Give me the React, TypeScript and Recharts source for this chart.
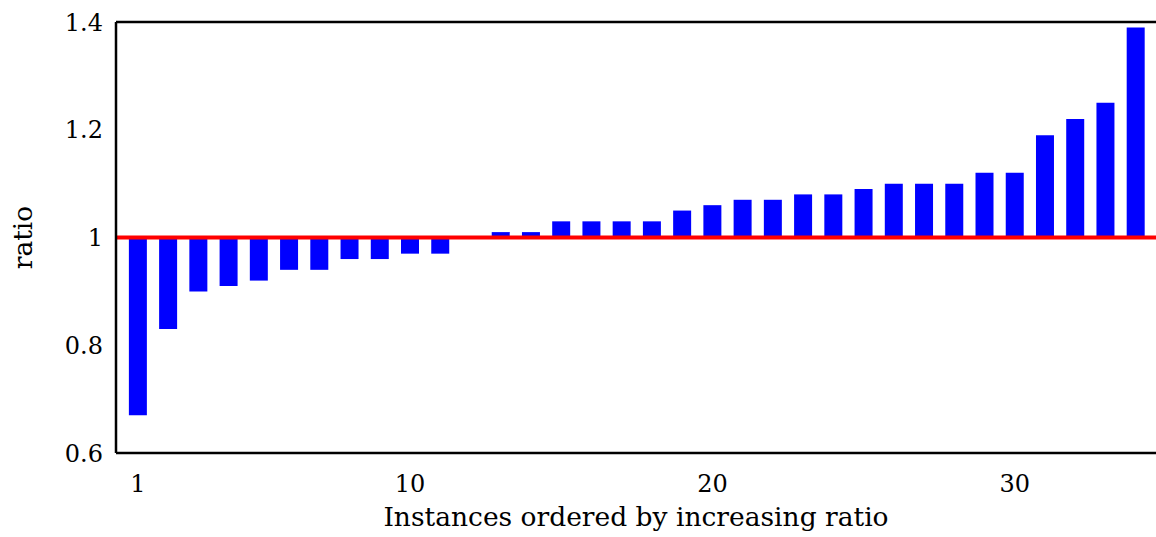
import React from 'react';
import { BarChart, Bar, XAxis, YAxis, ReferenceLine } from 'recharts';

const instances: number[] = Array.from({ length: 34 }, (_, i) => i + 1);
const ratios: number[] = [
  0.67, 0.83, 0.9, 0.91, 0.92, 0.94, 0.94, 0.96, 0.96, 0.97, 0.97, 1.0,
  1.01, 1.01, 1.03, 1.03, 1.03, 1.03, 1.05, 1.06, 1.07, 1.07, 1.08, 1.08,
  1.09, 1.1, 1.1, 1.1, 1.12, 1.12, 1.19, 1.22, 1.25, 1.39,
];
const xTicks: number[] = [1, 10, 20, 30];
const yTicks: number[] = [0.6, 0.8, 1, 1.2, 1.4];
const baseline = 1;

const data = instances.map((idx, i) => ({ idx, range: [baseline, ratios[i]] }));

const FONT = '"DejaVu Serif", "Liberation Serif", serif';
const FS = 24;
const LFS = 26.5;

export default function App() {
  return (
    <div style={{ position: 'absolute', left: 0, top: 0, width: 1156, height: 537, overflow: 'hidden', background: '#fff' }}>
      <BarChart width={1170} height={537} data={data} margin={{ top: 22, right: 10, bottom: 0, left: 0 }} barSize={18}>
        <XAxis
          dataKey="idx"
          type="number"
          domain={[0.2725, 34.8]}
          allowDataOverflow
          ticks={xTicks}
          interval={0}
          height={84}
          tickLine={false}
          tickSize={0}
          tickMargin={22}
          axisLine={{ stroke: '#000', strokeWidth: 2.5 }}
          tick={{ fill: '#000', fontSize: FS, fontFamily: FONT }}
          label={{
            content: () => (
              <text x={636} y={526} textAnchor="middle" fill="#000" fontSize={LFS} fontFamily={FONT}>
                Instances ordered by increasing ratio
              </text>
            ),
          }}
        />
        <YAxis
          type="number"
          domain={[0.6, 1.4]}
          ticks={yTicks}
          interval={0}
          width={116}
          tickLine={false}
          tickSize={0}
          tickMargin={13}
          axisLine={{ stroke: '#000', strokeWidth: 2.5 }}
          tick={{ fill: '#000', fontSize: FS, fontFamily: FONT }}
          label={{
            content: (props: any) => {
              const vb = props.viewBox || { y: 22, height: 431 };
              const cy = vb.y + vb.height / 2;
              return (
                <text
                  x={22}
                  y={cy}
                  transform={`rotate(-90, 22, ${cy})`}
                  textAnchor="middle"
                  dominantBaseline="central"
                  fill="#000"
                  fontSize={LFS}
                  fontFamily={FONT}
                >
                  ratio
                </text>
              );
            },
          }}
        />
        <Bar dataKey="range" fill="#0000ff" isAnimationActive={false} />
        <ReferenceLine y={baseline} stroke="#ff0000" strokeWidth={4} ifOverflow="visible" />
        <ReferenceLine y={1.4} stroke="#000" strokeWidth={2.5} ifOverflow="visible" />
      </BarChart>
    </div>
  );
}
